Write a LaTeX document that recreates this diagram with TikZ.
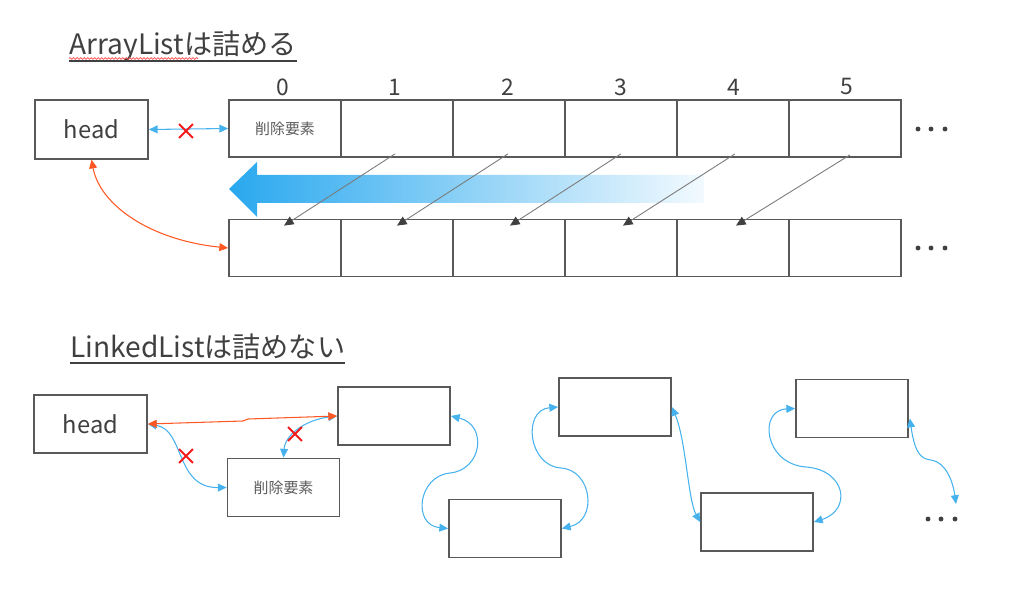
\documentclass[tikz,border=0pt]{standalone}
\usepackage{fontspec}
\setmainfont{Noto Sans CJK JP}
\usetikzlibrary{arrows.meta,shapes.misc,calc,decorations.pathmorphing}

\definecolor{boxgray}{HTML}{595959}
\definecolor{textgray}{HTML}{404040}
\definecolor{lineblue}{HTML}{45B2EE}
\definecolor{arrowblue}{HTML}{29A8EF}
\definecolor{linkred}{HTML}{FF5722}
\definecolor{markred}{HTML}{F51A1A}
\definecolor{diaggray}{HTML}{7A7A7A}

\begin{document}
\begin{tikzpicture}[x=0.02cm, y=-0.02cm,
    >={Triangle[length=5pt,width=4.5pt]},
    box/.style={draw=boxgray, line width=1pt, minimum width=2.24cm, minimum height=1.14cm, inner sep=0pt},
    headbox/.style={box, minimum width=2.26cm, minimum height=1.17cm, font=\fontsize{13.5}{14}\selectfont, text=textgray},
    delnote/.style={font=\fontsize{8.5}{9}\selectfont, text=boxgray},
    index/.style={font=\fontsize{13}{14}\selectfont, text=textgray},
    title/.style={font=\fontsize{16}{18}\selectfont, text=textgray, inner sep=0pt, anchor=base west},
    blink/.style={draw=lineblue, line width=0.6pt, <->},
    rlink/.style={draw=linkred, line width=0.6pt, <->},
    shiftarrow/.style={draw=diaggray, line width=0.5pt, arrows={-Triangle[length=5.5pt,width=5pt,color=textgray]}},
    xmark/.style={cross out, draw=markred, line width=1.1pt, minimum size=0.24cm, inner sep=0pt},
    dot/.style={fill=textgray}]
    \useasboundingbox (0,0) rectangle (1024,611);

    % ArrayList
    \node[title] (title1) at (69,55) {ArrayListは詰める};
    \draw[textgray, line width=0.8pt] ([yshift=-3.5pt]title1.base west) -- ([yshift=-3.5pt]title1.base east);
    \draw[red!70, line width=0.4pt, decorate, decoration={snake, amplitude=0.5pt, segment length=2pt}] (69,58.5) -- (198,58.5);

    \node[headbox] (head) at (91.5,129.5) {head};

    \node[box, delnote] (a0) at (285,128.5) {削除要素};
    \node[box] (a1) at (397,128.5) {};
    \node[box] (a2) at (509,128.5) {};
    \node[box] (a3) at (621,128.5) {};
    \node[box] (a4) at (733,128.5) {};
    \node[box] (a5) at (845,128.5) {};

    \node[index] (i0) at (283,87) {0};
    \node[index] (i1) at (395,87) {1};
    \node[index] (i2) at (508,87) {2};
    \node[index] (i3) at (621,87) {3};
    \node[index] (i4) at (734,87) {4};
    \node[index] (i5) at (847,87) {5};

    \node[box] (b0) at (285,248) {};
    \node[box] (b1) at (397,248) {};
    \node[box] (b2) at (509,248) {};
    \node[box] (b3) at (621,248) {};
    \node[box] (b4) at (733,248) {};
    \node[box] (b5) at (845,248) {};

    \fill[dot] (918,129) circle[radius=1.4pt];
    \fill[dot] (931,129) circle[radius=1.4pt];
    \fill[dot] (945,129) circle[radius=1.4pt];
    \fill[dot] (918,248) circle[radius=1.4pt];
    \fill[dot] (931,248) circle[radius=1.4pt];
    \fill[dot] (945,248) circle[radius=1.4pt];

    \draw[blink] (head.east) -- (a0.west);
    \node[xmark] (x1) at (186,131) {};
    \draw[rlink] (head.south) .. controls (100,205) and (150,240) .. (b0.west);

    % moving left
    \shade[left color=arrowblue, middle color=arrowblue!45, right color=arrowblue!6]
        (229,189) -- (257,162) -- (257,175) -- (704,175) -- (704,203) -- (257,203) -- (257,217) -- cycle;
    \draw[shiftarrow] ($(a1.south)+(-2,-4)$) -- ($(b0.north)+(-1,7)$);
    \draw[shiftarrow] ($(a2.south)+(-1,-4)$) -- ($(b1.north)+(0,7)$);
    \draw[shiftarrow] ($(a3.south)+(0,-4)$) -- ($(b2.north)+(1,7)$);
    \draw[shiftarrow] ($(a4.south)+(2,-4)$) -- ($(b3.north)+(2,7)$);
    \draw[shiftarrow] ($(a5.south)+(5,-3)$) -- ($(b4.north)+(3,7)$);

    % LinkedList
    \node[title] (title2) at (70,357) {LinkedListは詰めない};
    \draw[textgray, line width=0.8pt] ([yshift=-3.5pt]title2.base west) -- ([yshift=-3.5pt]title2.base east);

    \node[headbox, minimum height=1.16cm] (lhead) at (90.5,424) {head};
    \node[box, delnote, minimum height=1.16cm] (ldel) at (283.5,487.5) {削除要素};
    \node[box, minimum height=1.16cm] (n1) at (394,416) {};
    \node[box, minimum height=1.16cm] (n2) at (505,528.5) {};
    \node[box, minimum height=1.16cm] (n3) at (615,407) {};
    \node[box, minimum height=1.16cm] (n4) at (757,522) {};
    \node[box, minimum height=1.16cm] (n5) at (852,408.5) {};
    \coordinate (more) at (956,504);

    \fill[dot] (928,519) circle[radius=1.4pt];
    \fill[dot] (941,519) circle[radius=1.4pt];
    \fill[dot] (955,519) circle[radius=1.4pt];

    \draw[blink] (lhead.east) .. controls (185,430) and (175,488) .. (ldel.west);
    \draw[blink] (n1.west) .. controls (305,420) and (285,435) .. (ldel.north);
    \draw[rlink] (lhead.east) -- (243,421) -- (248,419) -- (n1.west);
    \node[xmark] (x2) at (186,456) {};
    \node[xmark] (x3) at (295,434) {};

    \draw[blink] (n1.east) .. controls (488,425) and (482,470) .. (450,473)
        .. controls (418,476) and (412,525) .. (n2.west);
    \draw[blink] (n2.east) .. controls (598,520) and (592,470) .. (561,468)
        .. controls (528,466) and (522,410) .. (n3.west);
    \draw[blink] (n3.east) .. controls (686,440) and (688,500) .. (n4.west);
    \draw[blink] (n4.east) .. controls (852,510) and (846,470) .. (806,467)
        .. controls (764,464) and (758,410) .. (n5.west);
    \draw[blink] ($(n5.east)+(1,10)$) .. controls (915,455) and (922,459) .. (931,460)
        .. controls (946,462) and (953,482) .. (more);
\end{tikzpicture}
\end{document}
